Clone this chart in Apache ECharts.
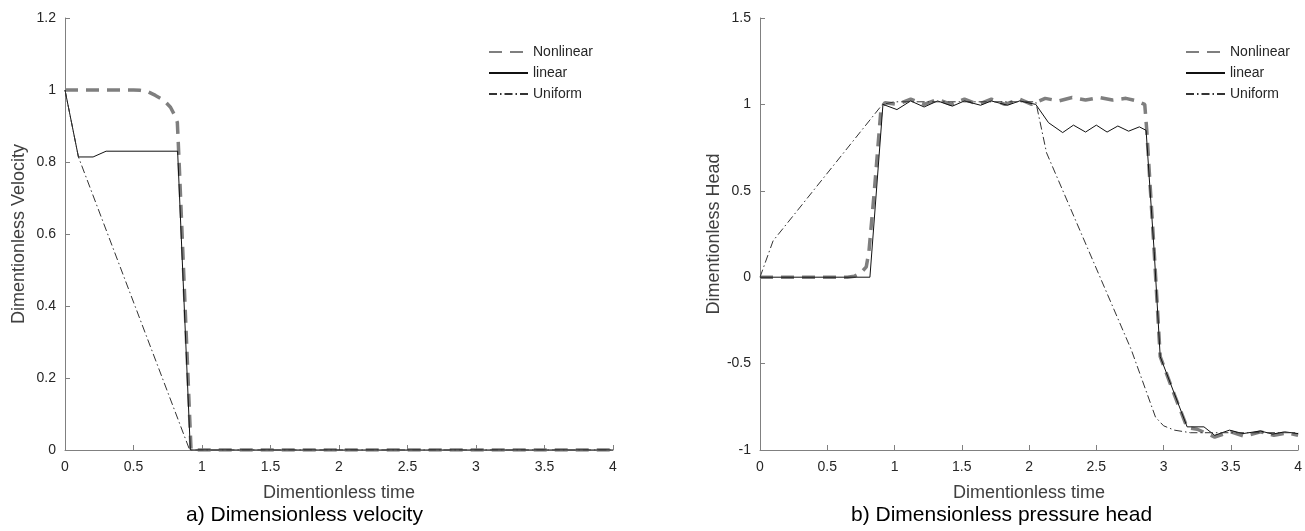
<!DOCTYPE html>
<html>
<head>
<meta charset="utf-8">
<script src="https://cdn.jsdelivr.net/npm/echarts@6/dist/echarts.min.js"></script>
<style>
  html, body { margin: 0; padding: 0; background: #ffffff; }
  #chart { width: 1305px; height: 531px; }
</style>
</head>
<body>
<div id="chart"></div>
<script>
// ---- a) Dimensionless velocity ----
const velNonlinearT = [0, 0.1, 0.2, 0.3, 0.4, 0.5, 0.55, 0.6, 0.66, 0.72, 0.77, 0.8, 0.82, 0.826, 0.834, 0.92, 1, 1.5, 2, 2.5, 3, 3.5, 4];
const velNonlinearV = [1, 1, 1, 1, 1, 1, 0.999, 0.996, 0.985, 0.972, 0.952, 0.93, 0.91, 0.86, 0.79, 0, 0, 0, 0, 0, 0, 0, 0];
const velLinearT = [0, 0.098, 0.205, 0.3, 0.822, 0.915, 4];
const velLinearV = [1, 0.814, 0.814, 0.83, 0.83, 0, 0];
const velUniformT = [0, 0.098, 0.91, 4];
const velUniformV = [1, 0.814, 0, 0];

// ---- b) Dimensionless pressure head ----
const headNonlinearT = [0, 0.3, 0.65, 0.7, 0.75, 0.79, 0.81, 0.85, 0.9, 0.93, 1.02, 1.12, 1.22, 1.32, 1.42, 1.52, 1.62, 1.72, 1.82, 1.93, 2.02, 2.12, 2.22, 2.32, 2.42, 2.52, 2.62, 2.72, 2.8, 2.86, 2.875, 2.93, 2.975, 3.08, 3.175, 3.25, 3.38, 3.5, 3.6, 3.72, 3.82, 3.92, 4];
const headNonlinearV = [0, 0, 0, 0.005, 0.025, 0.06, 0.15, 0.5, 0.98, 1.01, 1.0, 1.03, 1.0, 1.03, 1.0, 1.03, 1.0, 1.03, 1.0, 1.03, 1.0, 1.035, 1.02, 1.04, 1.025, 1.04, 1.025, 1.035, 1.02, 1.0, 0.85, 0.15, -0.46, -0.68, -0.87, -0.88, -0.925, -0.895, -0.92, -0.895, -0.915, -0.9, -0.915];
const headLinearT = [0, 0.817, 0.914, 1.018, 1.12, 1.22, 1.32, 1.43, 1.52, 1.64, 1.72, 1.84, 1.93, 2.05, 2.145, 2.25, 2.33, 2.42, 2.5, 2.58, 2.66, 2.74, 2.82, 2.87, 2.93, 2.975, 3.175, 3.3, 3.38, 3.49, 3.59, 3.72, 3.81, 3.9, 4];
const headLinearV = [0, 0, 1.0, 0.97, 1.02, 0.985, 1.02, 0.99, 1.02, 0.995, 1.02, 0.995, 1.02, 1.0, 0.894, 0.837, 0.88, 0.84, 0.88, 0.84, 0.875, 0.845, 0.87, 0.85, 0.15, -0.46, -0.866, -0.866, -0.915, -0.885, -0.905, -0.89, -0.908, -0.895, -0.905];
const headUniformT = [0, 0.097, 0.91, 1.0, 2.05, 2.13, 2.76, 2.94, 3.0, 3.08, 3.2, 4];
const headUniformV = [0, 0.21, 1.0, 1.015, 1.015, 0.72, -0.42, -0.81, -0.86, -0.885, -0.9, -0.9];

const timeTicks = { min: 0, max: 4, interval: 0.5 };
const velTicks = { min: 0, max: 1.2, interval: 0.2 };
const headTicks = { min: -1, max: 1.5, interval: 0.5 };

const seriesNames = ['Nonlinear', 'linear', 'Uniform'];
const captions = ['a) Dimensionless velocity', 'b) Dimensionless pressure head'];

const FONT = '"Liberation Sans", Arial, Helvetica, sans-serif';

function zip(ts, vs) { return ts.map((t, i) => [t, vs[i]]); }

const styles = {
  Nonlinear: { color: '#7f7f7f', width: 3.5, type: [13, 8] },
  linear: { color: '#111111', width: 1, type: 'solid' },
  Uniform: { color: '#333333', width: 1, type: [8, 3, 1.5, 3] }
};

function lineSeries(name, data, idx) {
  const s = styles[name];
  return {
    name: name,
    type: 'line',
    xAxisIndex: idx,
    yAxisIndex: idx,
    data: data,
    symbol: 'none',
    showSymbol: false,
    clip: true,
    itemStyle: { color: s.color },
    lineStyle: { color: s.color, width: s.width, type: s.type },
    z: name === 'Nonlinear' ? 2 : 3
  };
}

function xAxisDef(gridIndex) {
  return {
    gridIndex: gridIndex, type: 'value',
    min: timeTicks.min, max: timeTicks.max, interval: timeTicks.interval,
    name: 'Dimentionless time', nameLocation: 'middle', nameGap: 34,
    nameTextStyle: { fontSize: 18, color: '#404040', fontFamily: FONT },
    axisLine: { onZero: false, lineStyle: { color: '#808080', width: 1 } },
    axisTick: { inside: true, length: 5, lineStyle: { color: '#808080' } },
    axisLabel: { color: '#262626', fontSize: 14, margin: 10, fontFamily: FONT },
    splitLine: { show: false }
  };
}

function yAxisDef(gridIndex, ticks, name) {
  return {
    gridIndex: gridIndex, type: 'value',
    min: ticks.min, max: ticks.max, interval: ticks.interval,
    name: name, nameLocation: 'middle', nameGap: 37, nameRotate: 90,
    nameTextStyle: { fontSize: 18, color: '#404040', fontFamily: FONT },
    axisLine: { show: true, onZero: false, lineStyle: { color: '#808080', width: 1 } },
    axisTick: { show: true, inside: true, length: 5, lineStyle: { color: '#808080' } },
    axisLabel: { color: '#262626', fontSize: 14, margin: 9, fontFamily: FONT },
    splitLine: { show: false }
  };
}

function legendDef(left) {
  return {
    orient: 'vertical', left: left, top: 40,
    itemWidth: 39, itemHeight: 14, itemGap: 7,
    itemStyle: { opacity: 0 },
    data: seriesNames,
    textStyle: { fontSize: 14, color: '#262626', fontFamily: FONT }
  };
}

const chart = echarts.init(document.getElementById('chart'), null, { renderer: 'canvas' });
chart.setOption({
  animation: false,
  backgroundColor: '#ffffff',
  grid: [
    { left: 65, top: 18, width: 548, height: 432 },
    { left: 760, top: 18, width: 548, height: 432 }
  ],
  xAxis: [xAxisDef(0), xAxisDef(1)],
  yAxis: [
    yAxisDef(0, velTicks, 'Dimentionless Velocity'),
    yAxisDef(1, headTicks, 'Dimentionless Head')
  ],
  legend: [legendDef(483), legendDef(1180)],
  graphic: [
    { type: 'text', left: 306 - 120, top: 505, style: { text: captions[0], fontSize: 21, fill: '#000000', fontFamily: FONT } },
    { type: 'text', left: 1003 - 152, top: 505, style: { text: captions[1], fontSize: 21, fill: '#000000', fontFamily: FONT } }
  ],
  series: [
    lineSeries('Nonlinear', zip(velNonlinearT, velNonlinearV), 0),
    lineSeries('linear', zip(velLinearT, velLinearV), 0),
    lineSeries('Uniform', zip(velUniformT, velUniformV), 0),
    lineSeries('Nonlinear', zip(headNonlinearT, headNonlinearV), 1),
    lineSeries('linear', zip(headLinearT, headLinearV), 1),
    lineSeries('Uniform', zip(headUniformT, headUniformV), 1)
  ]
});
</script>
</body>
</html>
